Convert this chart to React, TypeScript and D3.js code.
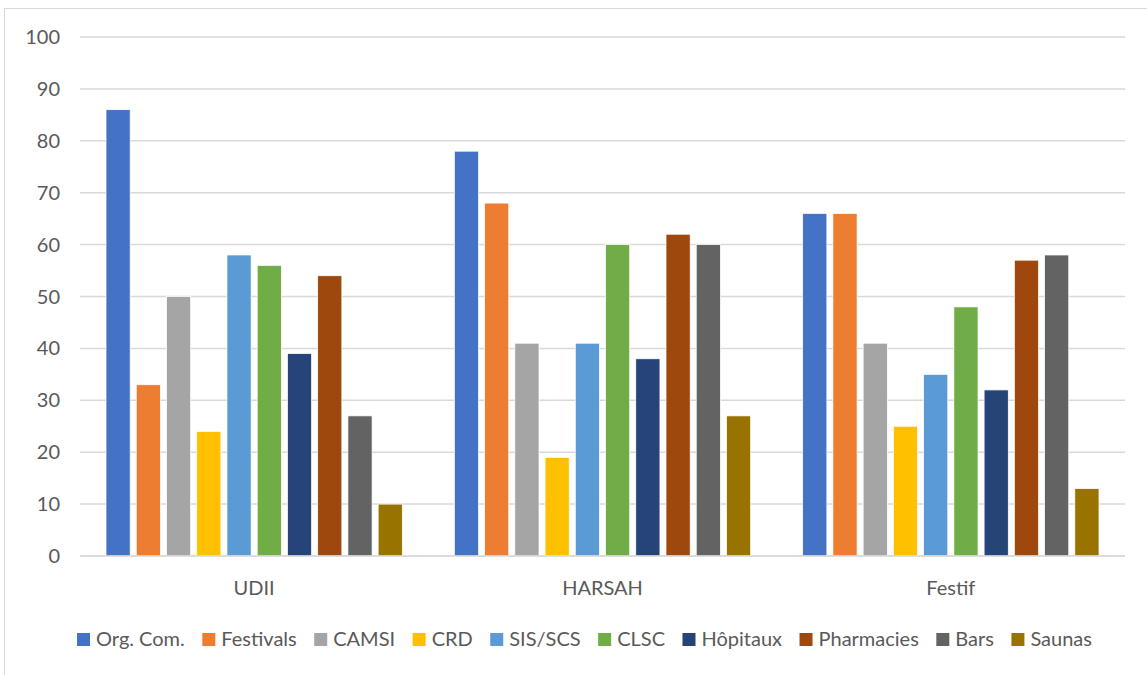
import React, { useEffect, useRef } from "react";
import * as d3 from "d3";

const categories = ["UDII", "HARSAH", "Festif"];
const seriesNames = ["Org. Com.", "Festivals", "CAMSI", "CRD", "SIS/SCS", "CLSC", "Hôpitaux", "Pharmacies", "Bars", "Saunas"];
const seriesColors = ["#4472C4", "#ED7D31", "#A5A5A5", "#FFC000", "#5B9BD5", "#70AD47", "#264478", "#9E480E", "#636363", "#997300"];
const udiiValues = [86, 33, 50, 24, 58, 56, 39, 54, 27, 10];
const harsahValues = [78, 68, 41, 19, 41, 60, 38, 62, 60, 27];
const festifValues = [66, 66, 41, 25, 35, 48, 32, 57, 58, 13];
const yTicks = [0, 10, 20, 30, 40, 50, 60, 70, 80, 90, 100];

const W = 1147;
const H = 675;
const FONT = "Lato, 'Noto Sans', sans-serif";
const TEXT = "#595959";
const FS = 20;

export default function App() {
  const ref = useRef<SVGSVGElement>(null);

  useEffect(() => {
    const svg = d3.select(ref.current);
    svg.selectAll("*").remove();

    const values = [udiiValues, harsahValues, festifValues];
    const left = 80, right = 1125, top = 37, bottom = 556;

    // chart frame
    svg.append("rect").attr("x", 4.5).attr("y", 8.5).attr("width", W + 20).attr("height", H + 20)
      .attr("fill", "#fff").attr("stroke", "#d9d9d9").attr("stroke-width", 1);

    const y = d3.scaleLinear().domain([0, 100]).range([bottom, top]);
    const x0 = d3.scaleBand<string>().domain(categories).range([left, right]).padding(0);
    const bw = x0.bandwidth();
    const x1 = d3.scaleBand<string>().domain(seriesNames).range([26, bw - 26]).paddingInner(0.2).paddingOuter(0);

    // grid
    svg.append("g").selectAll("line").data(yTicks).join("line")
      .attr("x1", left).attr("x2", right)
      .attr("y1", d => y(d)).attr("y2", d => y(d))
      .attr("stroke", "#d9d9d9").attr("stroke-width", 1.5);

    // y tick labels
    svg.append("g").selectAll("text").data(yTicks).join("text")
      .attr("x", 60).attr("y", d => y(d)).attr("dy", "0.35em")
      .attr("text-anchor", "end").attr("fill", TEXT)
      .attr("font-family", FONT).attr("font-size", FS)
      .text(d => String(d));

    // bars
    const groups = svg.append("g").selectAll("g").data(categories).join("g")
      .attr("transform", c => `translate(${x0(c)},0)`);
    groups.each(function (c, ci) {
      d3.select(this).selectAll("rect").data(values[ci]).join("rect")
        .attr("x", (_, i) => x1(seriesNames[i])!)
        .attr("width", x1.bandwidth())
        .attr("y", v => y(v))
        .attr("height", v => y(0) - y(v))
        .attr("fill", (_, i) => seriesColors[i])
        .attr("stroke", "#fff").attr("stroke-width", 0.75);
    });

    // baseline redraw on top
    svg.append("line").attr("x1", left).attr("x2", right).attr("y1", y(0)).attr("y2", y(0))
      .attr("stroke", "#d9d9d9").attr("stroke-width", 1.5);

    // category labels
    svg.append("g").selectAll("text").data(categories).join("text")
      .attr("x", c => x0(c)! + bw / 2).attr("y", 595)
      .attr("text-anchor", "middle").attr("fill", TEXT)
      .attr("font-family", FONT).attr("font-size", FS)
      .text(c => c);

    // legend
    const lg = svg.append("g");
    const sq = 13, gapText = 6, gapItem = 17.5;
    let cx = 0;
    seriesNames.forEach((name, i) => {
      const g = lg.append("g").attr("transform", `translate(${cx},0)`);
      g.append("rect").attr("x", 0).attr("y", -13).attr("width", sq).attr("height", sq).attr("fill", seriesColors[i]);
      const t = g.append("text").attr("x", sq + gapText).attr("y", 0)
        .attr("fill", TEXT).attr("font-family", FONT).attr("font-size", FS).text(name);
      const tw = (t.node() as SVGTextElement).getComputedTextLength();
      cx += sq + gapText + tw + gapItem;
    });
    const total = cx - gapItem;
    const startX = 584.5 - total / 2;
    lg.attr("transform", `translate(${startX},646)`);
  }, []);

  return (
    <svg ref={ref} width={W} height={H}
      style={{ position: "absolute", left: 0, top: 0, background: "#fff" }} />
  );
}
